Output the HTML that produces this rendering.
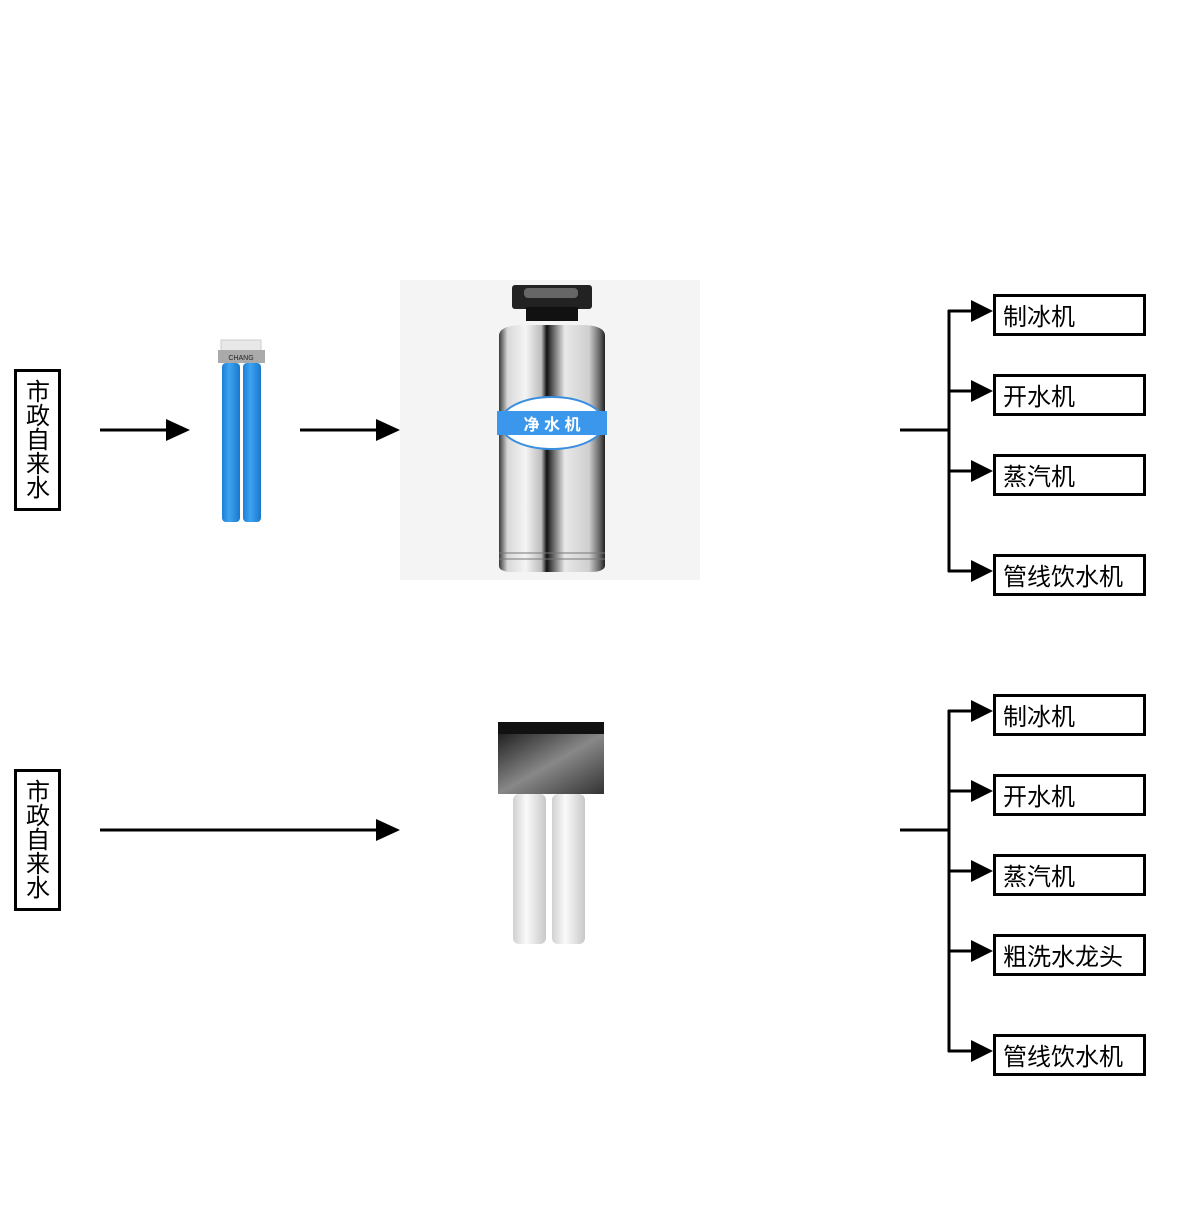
<!DOCTYPE html>
<html><head><meta charset="utf-8"><style>
body{margin:0;background:#fff;width:1200px;height:1200px;overflow:hidden;font-family:"Liberation Sans","Noto Sans CJK SC",sans-serif}
</style></head><body>
<svg width="1200" height="1200" xmlns="http://www.w3.org/2000/svg" font-family="Liberation Sans, Noto Sans CJK SC, sans-serif">
<defs>
<linearGradient id="steel" x1="0" x2="1" y1="0" y2="0">
<stop offset="0" stop-color="#3a3a3a"/><stop offset="0.08" stop-color="#d8d8d8"/><stop offset="0.25" stop-color="#f4f4f4"/><stop offset="0.4" stop-color="#bdbdbd"/><stop offset="0.45" stop-color="#111"/><stop offset="0.5" stop-color="#555"/><stop offset="0.62" stop-color="#e8e8e8"/><stop offset="0.85" stop-color="#cfcfcf"/><stop offset="0.95" stop-color="#666"/><stop offset="1" stop-color="#222"/>
</linearGradient>
<linearGradient id="blue" x1="0" x2="1"><stop offset="0" stop-color="#1b7fd6"/><stop offset="0.4" stop-color="#3fa3f0"/><stop offset="1" stop-color="#1a78cc"/></linearGradient>
<linearGradient id="cap" x1="0" x2="1" y1="0" y2="1"><stop offset="0" stop-color="#222"/><stop offset="0.5" stop-color="#888"/><stop offset="1" stop-color="#333"/></linearGradient>
<linearGradient id="white" x1="0" x2="1"><stop offset="0" stop-color="#d0d0d0"/><stop offset="0.4" stop-color="#fafafa"/><stop offset="1" stop-color="#c8c8c8"/></linearGradient>
</defs>

<rect x="15.5" y="370.5" width="44" height="139" fill="none" stroke="#000" stroke-width="3"/>
<text x="38" y="400" font-size="24" text-anchor="middle">市</text>
<text x="38" y="424" font-size="24" text-anchor="middle">政</text>
<text x="38" y="448" font-size="24" text-anchor="middle">自</text>
<text x="38" y="472" font-size="24" text-anchor="middle">来</text>
<text x="38" y="496" font-size="24" text-anchor="middle">水</text>

<line x1="100" y1="430" x2="170" y2="430" stroke="#000" stroke-width="3"/>
<polygon points="166,419 190,430 166,441" fill="#000"/>
<line x1="300" y1="430" x2="380" y2="430" stroke="#000" stroke-width="3"/>
<polygon points="376,419 400,430 376,441" fill="#000"/>

<rect x="221" y="340" width="40" height="11" fill="#e8e8e8" stroke="#ccc"/>
<rect x="218" y="350" width="47" height="13" fill="#aaa"/>
<text x="241" y="360" font-size="7" text-anchor="middle" fill="#222">CHANG</text>
<rect x="222" y="363" width="18" height="159" rx="4" fill="url(#blue)"/>
<rect x="243" y="363" width="18" height="159" rx="4" fill="url(#blue)"/>

<rect x="400" y="280" width="300" height="300" fill="#f4f4f4"/>
<rect x="512" y="285" width="80" height="24" rx="3" fill="#222"/>
<rect x="524" y="288" width="54" height="10" rx="4" fill="#666"/>
<rect x="526" y="307" width="52" height="14" fill="#111"/>
<path d="M499 335 Q500 326 520 325 L585 325 Q604 326 605 335 L605 566 Q604 572 590 572 L514 572 Q499 572 499 566 Z" fill="url(#steel)"/>
<ellipse cx="552" cy="423" rx="52" ry="26" fill="#fff" stroke="#3a8ee0" stroke-width="2"/>
<rect x="497" y="411" width="110" height="24" fill="#3b97ec"/>
<text x="552" y="430" font-size="16" font-weight="bold" fill="#fff" text-anchor="middle">净 水 机</text>
<line x1="499" y1="553" x2="605" y2="553" stroke="#777"/>
<line x1="499" y1="559" x2="605" y2="559" stroke="#777"/>

<g stroke="#000" stroke-width="3" fill="none">
<line x1="900" y1="430" x2="949" y2="430"/>
<line x1="949" y1="310" x2="949" y2="572"/>
<line x1="948" y1="311" x2="975" y2="311"/>
<line x1="948" y1="391" x2="975" y2="391"/>
<line x1="948" y1="471" x2="975" y2="471"/>
<line x1="948" y1="571" x2="975" y2="571"/>
</g>
<g fill="#000">
<polygon points="971,300 993,311 971,322"/>
<polygon points="971,380 993,391 971,402"/>
<polygon points="971,460 993,471 971,482"/>
<polygon points="971,560 993,571 971,582"/>
</g>
<g fill="none" stroke="#000" stroke-width="3">
<rect x="994.5" y="295.5" width="150" height="39"/>
<rect x="994.5" y="375.5" width="150" height="39"/>
<rect x="994.5" y="455.5" width="150" height="39"/>
<rect x="994.5" y="555.5" width="150" height="39"/>
</g>
<g font-size="24">
<text x="1003" y="325">制冰机</text>
<text x="1003" y="405">开水机</text>
<text x="1003" y="485">蒸汽机</text>
<text x="1003" y="585">管线饮水机</text>
</g>

<rect x="15.5" y="770.5" width="44" height="139" fill="none" stroke="#000" stroke-width="3"/>
<text x="38" y="800" font-size="24" text-anchor="middle">市</text>
<text x="38" y="824" font-size="24" text-anchor="middle">政</text>
<text x="38" y="848" font-size="24" text-anchor="middle">自</text>
<text x="38" y="872" font-size="24" text-anchor="middle">来</text>
<text x="38" y="896" font-size="24" text-anchor="middle">水</text>
<line x1="100" y1="830" x2="380" y2="830" stroke="#000" stroke-width="3"/>
<polygon points="376,819 400,830 376,841" fill="#000"/>

<rect x="498" y="722" width="106" height="12" fill="#111"/>
<rect x="498" y="734" width="106" height="60" fill="url(#cap)"/>
<rect x="513" y="794" width="33" height="150" rx="6" fill="url(#white)"/>
<rect x="552" y="794" width="33" height="150" rx="6" fill="url(#white)"/>

<g stroke="#000" stroke-width="3" fill="none">
<line x1="900" y1="830" x2="949" y2="830"/>
<line x1="949" y1="710" x2="949" y2="1052"/>
<line x1="948" y1="711" x2="975" y2="711"/>
<line x1="948" y1="791" x2="975" y2="791"/>
<line x1="948" y1="871" x2="975" y2="871"/>
<line x1="948" y1="951" x2="975" y2="951"/>
<line x1="948" y1="1051" x2="975" y2="1051"/>
</g>
<g fill="#000">
<polygon points="971,700 993,711 971,722"/>
<polygon points="971,780 993,791 971,802"/>
<polygon points="971,860 993,871 971,882"/>
<polygon points="971,940 993,951 971,962"/>
<polygon points="971,1040 993,1051 971,1062"/>
</g>
<g fill="none" stroke="#000" stroke-width="3">
<rect x="994.5" y="695.5" width="150" height="39"/>
<rect x="994.5" y="775.5" width="150" height="39"/>
<rect x="994.5" y="855.5" width="150" height="39"/>
<rect x="994.5" y="935.5" width="150" height="39"/>
<rect x="994.5" y="1035.5" width="150" height="39"/>
</g>
<g font-size="24">
<text x="1003" y="725">制冰机</text>
<text x="1003" y="805">开水机</text>
<text x="1003" y="885">蒸汽机</text>
<text x="1003" y="965">粗洗水龙头</text>
<text x="1003" y="1065">管线饮水机</text>
</g>
</svg>
</body></html>
